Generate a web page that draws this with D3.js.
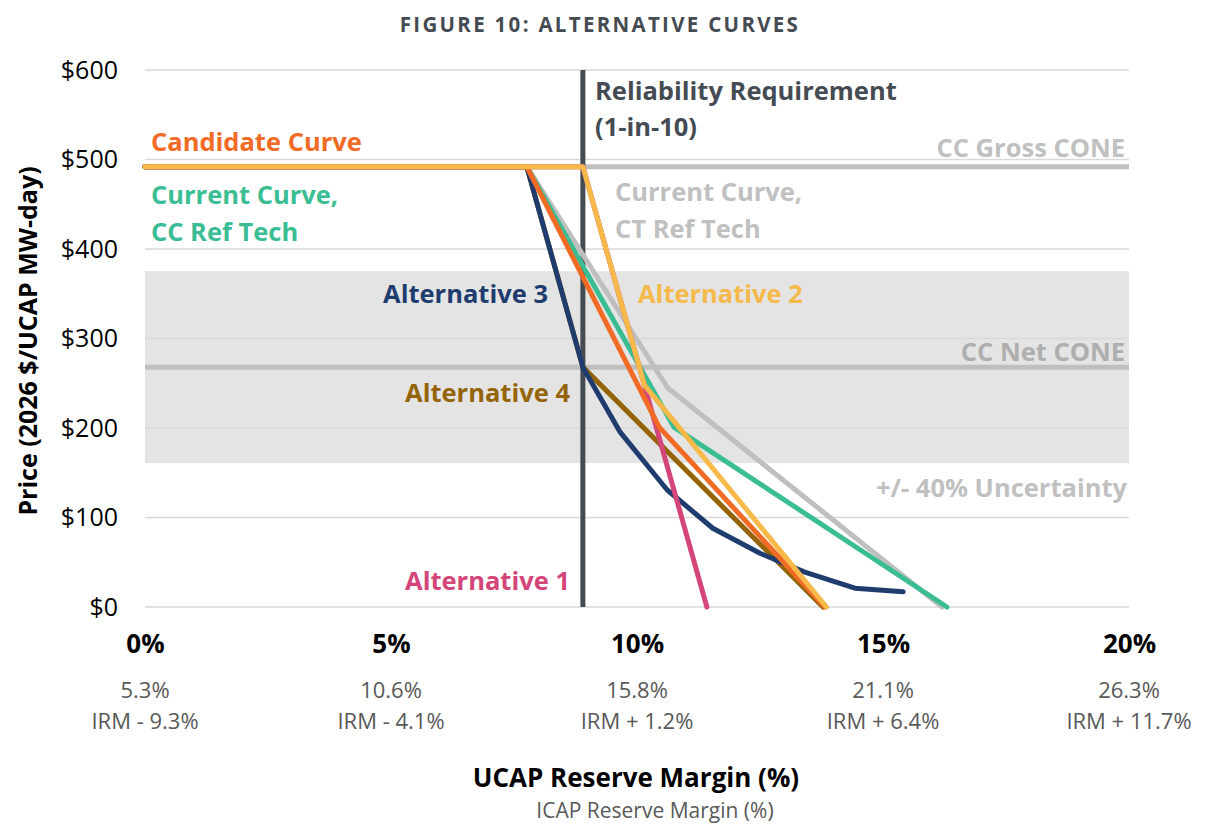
<!DOCTYPE html>
<html>
<head>
<meta charset="utf-8">
<script src="https://cdn.jsdelivr.net/npm/d3@7"></script>
<style>
  body { margin: 0; background: #fff; }
  svg text { font-family: "Open Sans", sans-serif; }
</style>
</head>
<body>
<svg id="chart" width="1216" height="826"></svg>
<script>
// curve data: [UCAP reserve margin %, price $/MW-day]
var candidate = [[0, 492], [7.76, 492], [10.45, 201], [13.82, 0]];
var currentCC = [[0, 492], [7.76, 492], [10.75, 201], [16.3, 0]];
var currentCT = [[0, 492], [7.76, 492], [10.62, 245], [16.2, 0]];
var alt1 = [[0, 492], [8.9, 492], [11.42, 0]];
var alt2 = [[0, 492], [8.9, 492], [10.15, 248], [13.85, 0]];
var alt3 = [[0, 492], [7.76, 492], [8.9, 268], [9.65, 196], [10.61, 131], [11.54, 88],
            [12.5, 60], [13.41, 39], [14.43, 21], [15.41, 17]];
var alt4 = [[0, 492], [7.76, 492], [8.9, 268], [13.78, 0]];

var grossCone = 492;
var netCone = 268;
var uncertainty = 0.4;
var reliabilityReq = 8.9;

var xTicks = [0, 5, 10, 15, 20];
var icapLabels = ["5.3%", "10.6%", "15.8%", "21.1%", "26.3%"];
var irmLabels = ["IRM - 9.3%", "IRM - 4.1%", "IRM + 1.2%", "IRM + 6.4%", "IRM + 11.7%"];
var yTicks = [0, 100, 200, 300, 400, 500, 600];

var margin = {top: 70, left: 145, right: 87, bottom: 219};
var width = 1216 - margin.left - margin.right;
var height = 826 - margin.top - margin.bottom;

var svg = d3.select("#chart");
var g = svg.append("g").attr("transform", `translate(${margin.left},${margin.top})`);

var x = d3.scaleLinear().domain([0, 20]).range([0, width]);
var y = d3.scaleLinear().domain([0, 600]).range([height, 0]);

// title
svg.append("text")
  .attr("x", 600).attr("y", 32)
  .attr("text-anchor", "middle")
  .style("font-size", "20.5px").style("font-weight", "bold")
  .style("letter-spacing", "2.3px")
  .attr("fill", "#454b52")
  .text("FIGURE 10: ALTERNATIVE CURVES");

// uncertainty band
g.append("rect")
  .attr("x", 0).attr("width", width)
  .attr("y", y(netCone * (1 + uncertainty)))
  .attr("height", y(netCone * (1 - uncertainty)) - y(netCone * (1 + uncertainty)))
  .attr("fill", "#e4e4e4");

// gridlines
g.append("g")
  .selectAll("line")
  .data(yTicks)
  .join("line")
    .attr("x1", 0).attr("x2", width)
    .attr("y1", d => y(d)).attr("y2", d => y(d))
    .attr("stroke", "#d9d9d9")
    .attr("stroke-width", 1.5);

// y axis labels
var yAxis = g.append("g")
  .call(d3.axisLeft(y).tickValues(yTicks).tickSize(0).tickPadding(27).tickFormat(d => "$" + d));
yAxis.select(".domain").remove();
yAxis.selectAll("text")
  .style("font-size", "25px")
  .style("font-family", "'Open Sans', sans-serif")
  .attr("fill", "#000");

// x axis labels
var xAxis = g.append("g")
  .attr("transform", `translate(0,${height})`)
  .call(d3.axisBottom(x).tickValues(xTicks).tickSize(0).tickPadding(28).tickFormat(d => d + "%"));
xAxis.select(".domain").remove();
xAxis.selectAll("text")
  .style("font-size", "26px").style("font-weight", "bold")
  .style("font-family", "'Open Sans', sans-serif")
  .attr("fill", "#000");

g.append("g")
  .selectAll("text")
  .data(xTicks)
  .join("text")
    .attr("x", d => x(d)).attr("y", height + 91)
    .attr("text-anchor", "middle")
    .style("font-size", "22px").attr("fill", "#595959")
    .text((d, i) => icapLabels[i]);

g.append("g")
  .selectAll("text")
  .data(xTicks)
  .join("text")
    .attr("x", d => x(d)).attr("y", height + 122)
    .attr("text-anchor", "middle")
    .style("font-size", "22px").attr("fill", "#595959")
    .text((d, i) => irmLabels[i]);

// axis titles
svg.append("text")
  .attr("x", 636).attr("y", 787)
  .attr("text-anchor", "middle")
  .style("font-size", "26px").style("font-weight", "bold")
  .text("UCAP Reserve Margin (%)");
svg.append("text")
  .attr("x", 655).attr("y", 818)
  .attr("text-anchor", "middle")
  .style("font-size", "21px").attr("fill", "#595959")
  .text("ICAP Reserve Margin (%)");
svg.append("text")
  .attr("transform", "translate(37,341) rotate(-90)")
  .attr("text-anchor", "middle")
  .style("font-size", "25px").style("font-weight", "bold")
  .text("Price (2026 $/UCAP MW-day)");

// CONE reference lines
g.append("line")
  .attr("x1", 0).attr("x2", width)
  .attr("y1", y(grossCone)).attr("y2", y(grossCone))
  .attr("stroke", "#bfbfbf").attr("stroke-width", 5);
g.append("line")
  .attr("x1", 0).attr("x2", width)
  .attr("y1", y(netCone)).attr("y2", y(netCone))
  .attr("stroke", "#bfbfbf").attr("stroke-width", 5);

// reliability requirement
g.append("line")
  .attr("x1", x(reliabilityReq)).attr("x2", x(reliabilityReq))
  .attr("y1", 0).attr("y2", height)
  .attr("stroke", "#454b53").attr("stroke-width", 5);

var line = d3.line().x(d => x(d[0])).y(d => y(d[1]));

var series = [
  {data: currentCT, color: "#bfbfbf"},
  {data: currentCC, color: "#3bbd93"},
  {data: alt4, color: "#956408"},
  {data: alt3, color: "#1e3d6e"},
  {data: alt1, color: "#d4457a"},
  {data: candidate, color: "#f26b24"},
  {data: alt2, color: "#f6b94a"}
];

g.append("g")
  .selectAll("path")
  .data(series)
  .join("path")
    .attr("d", d => line(d.data))
    .attr("fill", "none")
    .attr("stroke", d => d.color)
    .attr("stroke-width", 5)
    .attr("stroke-linejoin", "round")
    .attr("stroke-linecap", "round");

// labels
var labels = [
  {t: "Reliability Requirement", x: 595, y: 100, a: "start", c: "#454b53"},
  {t: "(1-in-10)", x: 595, y: 136, a: "start", c: "#454b53"},
  {t: "Candidate Curve", x: 151, y: 151, a: "start", c: "#f26b24"},
  {t: "Current Curve,", x: 151, y: 204, a: "start", c: "#3bbd93"},
  {t: "CC Ref Tech", x: 151, y: 241, a: "start", c: "#3bbd93"},
  {t: "CC Gross CONE", x: 1125, y: 157, a: "end", c: "#c0c0c0"},
  {t: "Current Curve,", x: 615, y: 201, a: "start", c: "#c0c0c0"},
  {t: "CT Ref Tech", x: 615, y: 238, a: "start", c: "#c0c0c0"},
  {t: "Alternative 3", x: 548, y: 303, a: "end", c: "#1e3d6e"},
  {t: "Alternative 2", x: 638, y: 303, a: "start", c: "#f6b94a"},
  {t: "CC Net CONE", x: 1125, y: 361, a: "end", c: "#aeaeae"},
  {t: "Alternative 4", x: 570, y: 402, a: "end", c: "#956408"},
  {t: "+/- 40% Uncertainty", x: 1127, y: 497, a: "end", c: "#c0c0c0"},
  {t: "Alternative 1", x: 570, y: 590, a: "end", c: "#d4457a"}
];

svg.append("g")
  .selectAll("text")
  .data(labels)
  .join("text")
    .attr("x", d => d.x).attr("y", d => d.y)
    .attr("text-anchor", d => d.a)
    .attr("fill", d => d.c)
    .style("font-size", "25.5px").style("font-weight", "bold")
    .text(d => d.t);
</script>
</body>
</html>
